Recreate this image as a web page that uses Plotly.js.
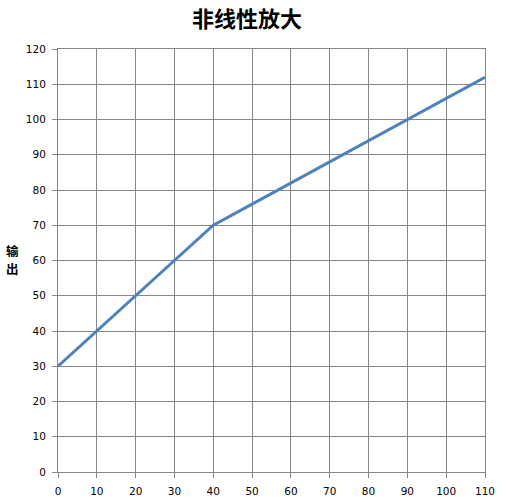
<!DOCTYPE html>
<html>
<head>
<meta charset="utf-8">
<script src="https://cdn.plot.ly/plotly-3.0.1.min.js"></script>
<style>
  html, body { margin: 0; padding: 0; background: #fff; }
  #chart { width: 506px; height: 497px; }
</style>
</head>
<body>
<div id="chart"></div>
<script>
// input / output points of the amplifier curve
const inputValues = [0, 10, 20, 30, 40, 50, 60, 70, 80, 90, 100, 110];
const outputValues = [30, 40, 50, 60, 70, 76, 82, 88, 94, 100, 106, 112];

const chartTitle = "非线性放大";
// y title is written vertically, one character per line
const yLabelChars = ["输", "出"];

const gridColor = "#868686";
const tickFont = { family: "DejaVu Sans, Verdana, sans-serif", size: 10.5, color: "#000" };

const trace = {
  x: inputValues,
  y: outputValues,
  mode: "lines",
  type: "scatter",
  line: { color: "#4f81bd", width: 3 },
  hoverinfo: "skip",
};

const axisStyle = {
  tick0: 0,
  dtick: 10,
  showgrid: true,
  gridcolor: gridColor,
  gridwidth: 1,
  zeroline: false,
  showline: true,
  linecolor: gridColor,
  linewidth: 1,
  mirror: true,
  ticks: "outside",
  ticklen: 5,
  tickcolor: gridColor,
  tickfont: tickFont,
  ticklabelstandoff: 4,
  fixedrange: true,
};

const layout = {
  width: 506,
  height: 497,
  paper_bgcolor: "#fff",
  plot_bgcolor: "#fff",
  showlegend: false,
  margin: { l: 58, r: 21, t: 49, b: 25 },
  title: {
    text: "<b>" + chartTitle + "</b>",
    font: { family: "Noto Sans CJK SC, sans-serif", size: 22, color: "#000" },
    x: 0.488,
    xanchor: "center",
    y: 0.962,
    yanchor: "middle",
  },
  xaxis: Object.assign({ range: [0, 110] }, axisStyle),
  yaxis: Object.assign({ range: [0, 120] }, axisStyle),
  annotations: yLabelChars.map((ch, i) => ({
    text: "<b>" + ch + "</b>",
    xref: "paper",
    yref: "paper",
    x: -0.106,
    y: 0.523 - i * 0.043,
    xanchor: "center",
    yanchor: "middle",
    showarrow: false,
    font: { family: "Noto Sans CJK SC, sans-serif", size: 12.5, color: "#000" },
  })),
};

Plotly.newPlot("chart", [trace], layout, { displayModeBar: false, staticPlot: true });
</script>
</body>
</html>
